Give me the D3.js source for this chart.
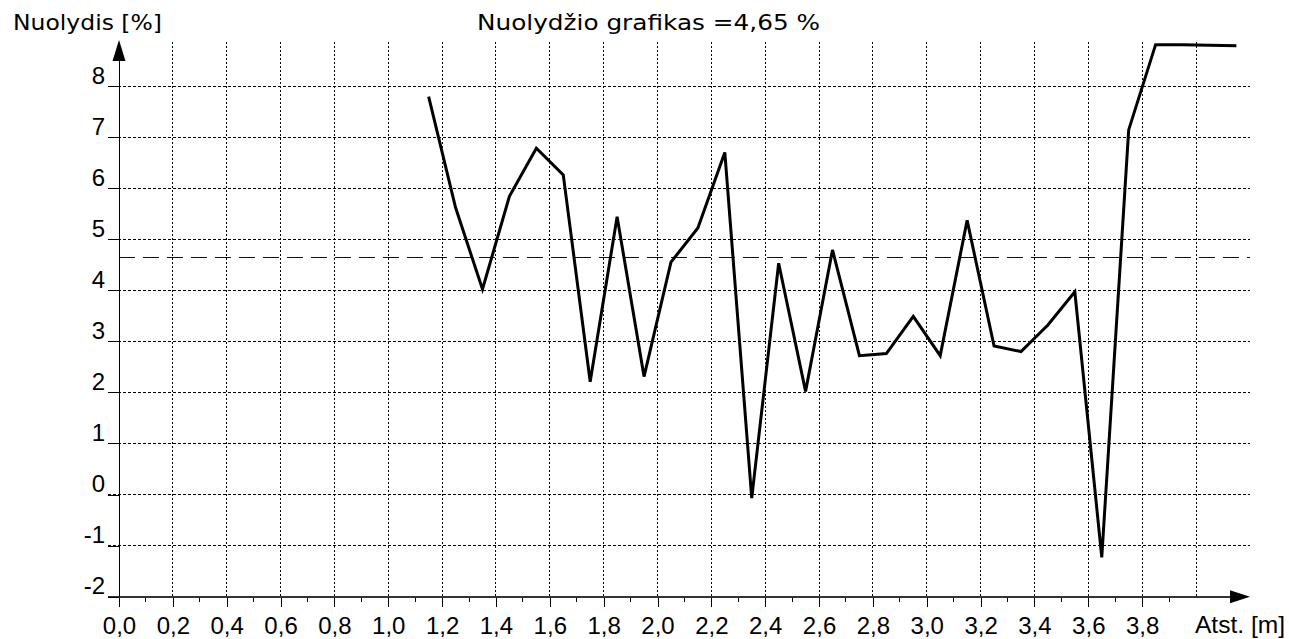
<!DOCTYPE html>
<html>
<head>
<meta charset="utf-8">
<script src="https://cdn.jsdelivr.net/npm/d3@7/dist/d3.min.js"></script>
<style>
  html, body { margin: 0; padding: 0; background: #fff; }
  svg { display: block; }
  .tick text { font-family: "Liberation Sans", Arial, sans-serif; font-size: 24px; fill: #000; }
  .ttl { font-family: "DejaVu Sans", sans-serif; font-size: 22px; fill: #000; }
  .crisp { shape-rendering: crispEdges; }
</style>
</head>
<body>
<div id="chart"></div>
<script>
// measured slope profile (distance in m, slope in %)
var distance = [1.15, 1.25, 1.35, 1.45, 1.55, 1.65, 1.75, 1.85, 1.95, 2.05,
                2.15, 2.25, 2.35, 2.45, 2.55, 2.65, 2.75, 2.85, 2.95, 3.05,
                3.15, 3.25, 3.35, 3.45, 3.55, 3.65, 3.75, 3.85, 3.95, 4.05, 4.15];
var slope = [7.79, 5.62, 4.02, 5.84, 6.78, 6.26, 2.21, 5.44, 2.31, 4.55,
             5.22, 6.70, -0.07, 4.53, 2.02, 4.79, 2.72, 2.76, 3.49, 2.72,
             5.37, 2.91, 2.80, 3.32, 3.97, -1.23, 7.14, 8.81, 8.81, 8.80, 8.79];
var meanSlope = 4.65;

var xTicks = [0.0, 0.2, 0.4, 0.6, 0.8, 1.0, 1.2, 1.4, 1.6, 1.8, 2.0,
              2.2, 2.4, 2.6, 2.8, 3.0, 3.2, 3.4, 3.6, 3.8];
var xMinor = [0.1, 0.3, 0.5, 0.7, 0.9, 1.1, 1.3, 1.5, 1.7, 1.9, 2.1,
              2.3, 2.5, 2.7, 2.9, 3.1, 3.3, 3.5, 3.7, 3.9];
var xGrid = [0.2, 0.4, 0.6, 0.8, 1.0, 1.2, 1.4, 1.6, 1.8, 2.0, 2.2,
             2.4, 2.6, 2.8, 3.0, 3.2, 3.4, 3.6, 3.8, 4.0];
var yTicks = [-2, -1, 0, 1, 2, 3, 4, 5, 6, 7, 8];

var width = 1289, height = 639;
var x0 = 119, yBase = 596.7;

var x = d3.scaleLinear().domain([0, 4]).range([x0, 1196]);
var y = d3.scaleLinear().domain([-2, 8]).range([yBase, 86]);

var svg = d3.select('#chart').append('svg')
    .attr('width', width)
    .attr('height', height);

var fmt = function (d) { return d.toFixed(1).replace('.', ','); };

// grid
svg.append('g')
    .attr('class', 'crisp')
    .selectAll('line')
    .data(xGrid)
    .enter()
    .append('line')
    .attr('x1', function (d) { return x(d); })
    .attr('x2', function (d) { return x(d); })
    .attr('y1', 42)
    .attr('y2', yBase)
    .attr('stroke', '#000')
    .attr('stroke-width', 1)
    .attr('stroke-dasharray', '2,2');

svg.append('g')
    .attr('class', 'crisp')
    .selectAll('line')
    .data(yTicks.slice(1))
    .enter()
    .append('line')
    .attr('x1', 108)
    .attr('x2', 1250)
    .attr('y1', function (d) { return y(d); })
    .attr('y2', function (d) { return y(d); })
    .attr('stroke', '#000')
    .attr('stroke-width', 1)
    .attr('stroke-dasharray', '3,2');

// mean line
svg.append('line')
    .attr('class', 'crisp')
    .attr('x1', x0)
    .attr('x2', 1250)
    .attr('y1', y(meanSlope))
    .attr('y2', y(meanSlope))
    .attr('stroke', '#111')
    .attr('stroke-width', 1)
    .attr('stroke-dasharray', '16,8');

// x axis
var xAxis = svg.append('g')
    .attr('class', 'crisp')
    .attr('transform', 'translate(0,' + yBase + ')')
    .call(d3.axisBottom(x).tickValues(xTicks).tickFormat(fmt).tickSize(10).tickPadding(10));
xAxis.select('.domain').remove();
xAxis.selectAll('.tick line').attr('stroke', '#000');

svg.append('g')
    .attr('class', 'crisp')
    .selectAll('line')
    .data(xMinor)
    .enter()
    .append('line')
    .attr('x1', function (d) { return x(d); })
    .attr('x2', function (d) { return x(d); })
    .attr('y1', yBase)
    .attr('y2', yBase + 5)
    .attr('stroke', '#000');

svg.append('line')
    .attr('class', 'crisp')
    .attr('x1', 108)
    .attr('x2', 1234)
    .attr('y1', yBase)
    .attr('y2', yBase)
    .attr('stroke', '#333')
    .attr('stroke-width', 2);

svg.append('path')
    .attr('d', 'M1230,' + (yBase - 6.5) + 'L1250,' + yBase + 'L1230,' + (yBase + 6.5) + 'Z')
    .attr('fill', '#000');

// y axis
var yAxis = svg.append('g')
    .attr('class', 'crisp')
    .attr('transform', 'translate(' + x0 + ',0)')
    .call(d3.axisLeft(y).tickValues(yTicks).tickFormat(d3.format('d')).tickSize(11).tickPadding(3));
yAxis.select('.domain').remove();
yAxis.selectAll('.tick line').attr('stroke', '#000');
yAxis.selectAll('.tick text').attr('dy', '-0.12em').text(function (d) { return d < 0 ? '-' + Math.abs(d) : d; });

svg.append('line')
    .attr('class', 'crisp')
    .attr('x1', x0)
    .attr('x2', x0)
    .attr('y1', 58)
    .attr('y2', yBase)
    .attr('stroke', '#000')
    .attr('stroke-width', 1);

svg.append('path')
    .attr('d', 'M' + (x0 - 6.5) + ',61L' + x0 + ',40L' + (x0 + 6.5) + ',61Z')
    .attr('fill', '#000');

// slope line
var line = d3.line()
    .x(function (d, i) { return x(distance[i]); })
    .y(function (d) { return y(d); });

svg.append('path')
    .datum(slope)
    .attr('d', line)
    .attr('fill', 'none')
    .attr('stroke', '#000')
    .attr('stroke-width', 3)
    .attr('stroke-linejoin', 'miter');

// titles
svg.append('text')
    .attr('class', 'ttl')
    .attr('x', 477)
    .attr('y', 30)
    .attr('textLength', 343)
    .attr('lengthAdjust', 'spacingAndGlyphs')
    .text('Nuolydžio grafikas =' + meanSlope.toFixed(2).replace('.', ',') + ' %');

svg.append('text')
    .attr('class', 'ttl')
    .attr('x', 13)
    .attr('y', 30)
    .attr('textLength', 149)
    .attr('lengthAdjust', 'spacingAndGlyphs')
    .text('Nuolydis [%]');

svg.append('text')
    .attr('class', 'ttl')
    .style('font-family', '"Liberation Sans", Arial, sans-serif')
    .style('font-size', '24px')
    .attr('x', 1195)
    .attr('y', 633)
    .attr('textLength', 90)
    .attr('lengthAdjust', 'spacingAndGlyphs')
    .text('Atst. [m]');
</script>
</body>
</html>
